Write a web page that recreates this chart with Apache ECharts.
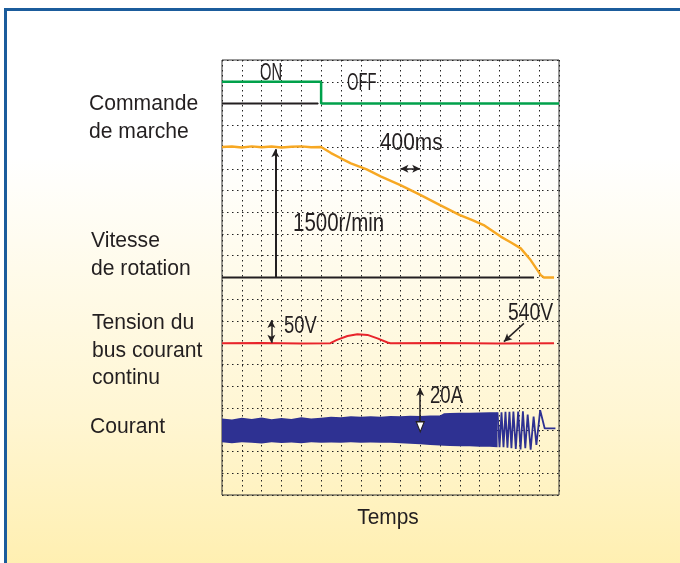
<!DOCTYPE html>
<html><head><meta charset="utf-8">
<script src="https://cdn.jsdelivr.net/npm/echarts@6/dist/echarts.min.js"></script>
<style>
html,body{margin:0;padding:0;background:#fff;}
#wrap{position:relative;width:680px;height:563px;overflow:hidden;background:#fff;}
#frame{position:absolute;left:4px;top:8px;width:700px;height:560px;border-left:3px solid #1b5c9c;border-top:3px solid #1b5c9c;
 background:linear-gradient(to bottom,#ffffff 0%,#ffffff 26%,#fffbeb 46%,#fff6d3 72%,#ffefb0 100%);}
#chart{position:absolute;left:0;top:0;width:680px;height:563px;}
</style></head>
<body><div id="wrap"><div id="frame"></div><div id="chart"></div></div>
<script>
// ---- data (grid units: x = time divisions, y = screen divisions) ----
const cmdOnX = [0, 5, 5, 17];
const cmdOnY = [19, 19, 18, 18];
const cmdOffX = [0, 4.85];
const cmdOffY = [18, 18];

const speedX = [0, 0.5, 1, 1.5, 2, 2.5, 3, 3.5, 4, 4.5, 5.0, 5.5, 6.0, 6.5, 7.3, 8, 9.0, 10.0, 11, 12.0, 12.6, 13.2, 14.06, 14.6, 15.07, 15.57, 16.08, 16.24, 16.75];
const speedY = [16.0, 16.02, 15.98, 16.03, 15.99, 16.02, 15.98, 16.01, 16.03, 15.99, 16.0, 15.72, 15.48, 15.25, 14.97, 14.65, 14.25, 13.8, 13.33, 12.87, 12.65, 12.41, 11.88, 11.6, 11.34, 10.8, 10.11, 10.0, 10.0];
const speedBaseX = [0, 15.74];
const speedBaseY = [10, 10];

const busX = [0, 2, 4, 5.47, 5.5, 5.8, 6.33, 6.83, 7.34, 7.84, 8.35, 8.5, 11, 14, 16.75];
const busY = [6.98, 6.99, 6.97, 6.98, 7.05, 7.13, 7.31, 7.39, 7.36, 7.2, 7.01, 6.98, 6.99, 6.97, 6.98];

const curBandX   = [0, 0.5, 1, 1.5, 2, 2.5, 3, 3.5, 4, 4.5, 5, 5.5, 6, 6.5, 7, 7.5, 8, 8.5, 9, 9.5, 10, 10.5, 11, 11.2, 11.5, 12, 12.5, 13, 13.5, 13.9];
const curBandTop = [3.52, 3.47, 3.55, 3.5, 3.56, 3.48, 3.54, 3.5, 3.57, 3.52, 3.55, 3.6, 3.58, 3.62, 3.6, 3.62, 3.6, 3.63, 3.62, 3.64, 3.63, 3.65, 3.66, 3.76, 3.77, 3.78, 3.78, 3.79, 3.8, 3.8];
const curBandBot = [2.42, 2.38, 2.43, 2.4, 2.37, 2.42, 2.39, 2.41, 2.38, 2.42, 2.4, 2.41, 2.4, 2.42, 2.4, 2.41, 2.4, 2.4, 2.38, 2.36, 2.33, 2.3, 2.28, 2.26, 2.25, 2.24, 2.24, 2.22, 2.22, 2.2];
const curZigX = [13.9, 14.0, 14.1, 14.2, 14.3, 14.4, 14.5, 14.6, 14.7, 14.82, 14.94, 15.06, 15.18, 15.3, 15.42, 15.57, 15.72, 15.86, 16.05, 16.28, 16.82];
const curZigY = [3.8, 2.2, 3.8, 2.2, 3.82, 2.18, 3.82, 2.15, 3.84, 2.12, 3.84, 2.1, 3.85, 2.15, 3.7, 2.08, 3.6, 2.3, 3.9, 3.06, 3.06];

const leftLabels = ['Commande', 'de marche', 'Vitesse', 'de rotation', 'Tension du', 'bus courant', 'continu', 'Courant'];
const notes = ['ON', 'OFF', '400ms', '1500r/min', '50V', '540V', '20A'];
const xTitle = 'Temps';

// ---- build ----
const zip = (xs, ys) => xs.map((x, i) => [x, ys[i]]);
const FONT = "'Liberation Sans', Arial, sans-serif";
const INK = '#231f20';

function lineSeries(name, xs, ys, color, width, z) {
  return { name, type: 'line', data: zip(xs, ys), showSymbol: false, symbol: 'none',
    lineStyle: { color, width }, z: z || 3, silent: true, animation: false };
}

const leftPos = [[89, 103.5], [89, 131.5], [91, 241], [91, 269], [92, 322.5], [92, 350.5], [92, 378], [90, 427]];
const notePos = [[260, 73.5, 23, 0.64], [347, 84, 23, 0.64], [380, 143.5, 24, 0.87], [293, 224, 25, 0.82], [284, 326.5, 23, 0.8], [508, 313.5, 23, 0.84], [430, 396.5, 23, 0.81]];

const graphics = [];
leftLabels.forEach((t, i) => graphics.push({ type: 'text', x: leftPos[i][0], y: leftPos[i][1], scaleX: 0.96, silent: true,
  style: { text: t, font: '22px ' + FONT, fill: INK, align: 'left', verticalAlign: 'middle', textAlign: 'left', textVerticalAlign: 'middle' } }));
notes.forEach((t, i) => graphics.push({ type: 'text', x: notePos[i][0], y: notePos[i][1], scaleX: notePos[i][3], silent: true,
  style: { text: t, font: notePos[i][2] + 'px ' + FONT, fill: INK, align: 'left', verticalAlign: 'middle', textAlign: 'left', textVerticalAlign: 'middle' } }));
graphics.push({ type: 'text', x: 388, y: 518, scaleX: 0.95, silent: true,
  style: { text: xTitle, font: '22px ' + FONT, fill: INK, align: 'center', verticalAlign: 'middle', textAlign: 'center', textVerticalAlign: 'middle' } });

const dotted = { type: [1.5, 3.5], color: '#222', width: 1 };

const chart = echarts.init(document.getElementById('chart'), null, { renderer: 'canvas' });
chart.setOption({
  animation: false,
  backgroundColor: 'transparent',
  grid: { left: 222, top: 60, width: 337, height: 435, show: true, borderColor: '#333', borderWidth: 1, backgroundColor: 'transparent' },
  xAxis: { type: 'value', min: 0, max: 17, interval: 1, axisLine: { show: false }, axisTick: { show: false }, axisLabel: { show: false },
    splitLine: { show: true, lineStyle: dotted } },
  yAxis: { type: 'value', min: 0, max: 20, interval: 1, axisLine: { show: false }, axisTick: { show: false }, axisLabel: { show: false },
    splitLine: { show: true, lineStyle: dotted } },
  graphic: graphics,
  series: [
    lineSeries('cmdOff', cmdOffX, cmdOffY, INK, 2, 3),
    lineSeries('cmdOn', cmdOnX, cmdOnY, '#00a14b', 2.5, 4),
    lineSeries('speedBase', speedBaseX, speedBaseY, INK, 2, 3),
    lineSeries('speed', speedX, speedY, '#f7a823', 2.4, 4),
    lineSeries('bus', busX, busY, '#e8242b', 2, 4),
    {
      name: 'currentBand', type: 'custom', coordinateSystem: 'cartesian2d', data: [[0, 3]], silent: true, z: 4,
      renderItem: function (params, api) {
        const pts = [];
        for (let i = 0; i < curBandX.length; i++) pts.push(api.coord([curBandX[i], curBandTop[i]]));
        for (let i = curBandX.length - 1; i >= 0; i--) pts.push(api.coord([curBandX[i], curBandBot[i]]));
        return { type: 'polygon', shape: { points: pts }, style: { fill: '#2e3192' } };
      }
    },
    lineSeries('currentZig', curZigX, curZigY, '#2e3192', 1.8, 4),
    {
      name: 'annot', type: 'line', data: [], silent: true, z: 6,
      markLine: {
        silent: true, animation: false, symbolSize: [6, 8], label: { show: false }, emphasis: { disabled: true },
        lineStyle: { color: INK, type: 'solid', width: 1.5 },
        data: [
          [{ coord: [2.69, 10], symbol: 'none' }, { coord: [2.69, 15.9], symbol: 'arrow', lineStyle: { width: 2 } }],
          [{ coord: [9, 15], symbol: 'arrow' }, { coord: [10, 15], symbol: 'arrow' }],
          [{ coord: [2.49, 7], symbol: 'arrow' }, { coord: [2.49, 8.05], symbol: 'arrow' }],
          [{ coord: [15.23, 7.89], symbol: 'none' }, { coord: [14.22, 7.05], symbol: 'arrow' }],
          [{ coord: [10, 3.37], symbol: 'none' }, { coord: [10, 4.92], symbol: 'arrow' }]
        ]
      },
      markPoint: {
        silent: true, animation: false, label: { show: false },
        data: [{ coord: [10, 3.14], symbol: 'triangle', symbolRotate: 180, symbolSize: [8, 10],
          itemStyle: { color: '#ffffff', borderColor: INK, borderWidth: 1.2 } }]
      }
    }
  ]
});
</script>
</body></html>
